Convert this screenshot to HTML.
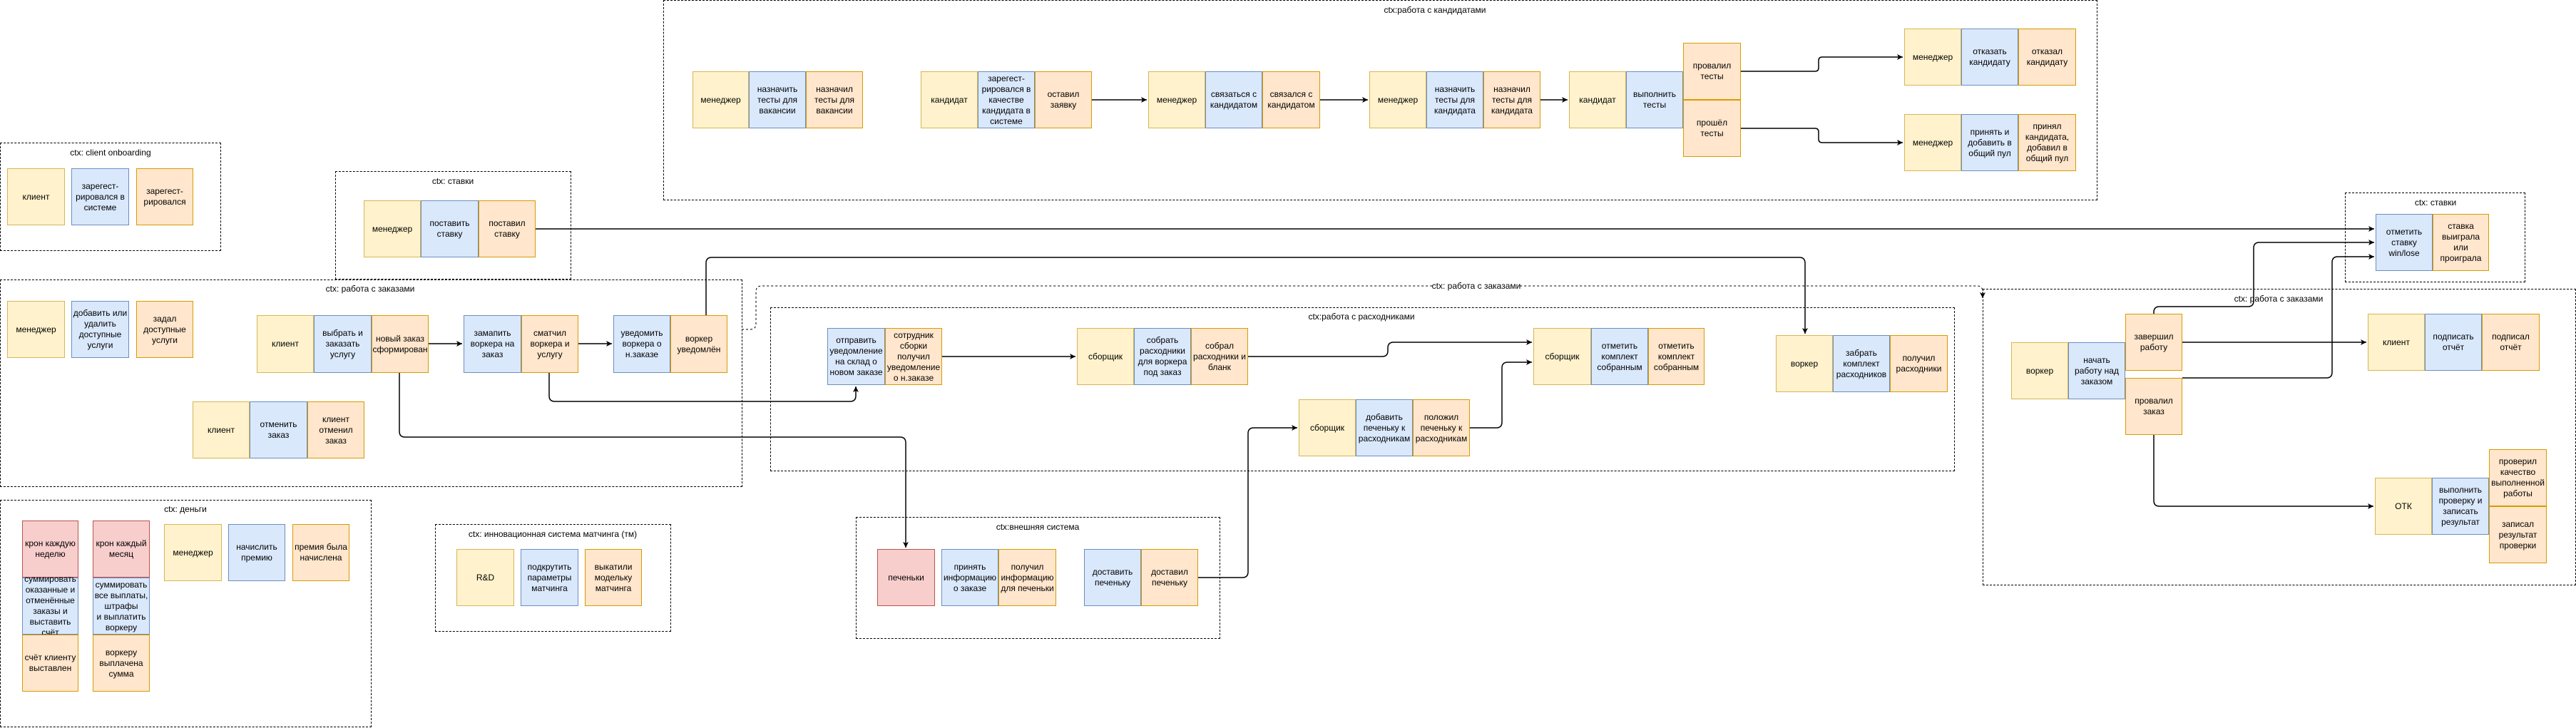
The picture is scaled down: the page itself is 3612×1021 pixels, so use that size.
<!DOCTYPE html>
<html><head><meta charset="utf-8">
<style>
html,body{margin:0;padding:0;background:#fff;}
body{width:3612px;height:1021px;position:relative;overflow:hidden;font-family:"Liberation Sans","DejaVu Sans",sans-serif;color:#000;}
.c{position:absolute;border:1px dashed #000;box-sizing:border-box;}
.l{position:absolute;font-size:12px;transform:translateX(-50%);white-space:nowrap;line-height:14px;}
.b{position:absolute;display:flex;align-items:center;justify-content:center;text-align:center;font-size:12px;line-height:15px;box-sizing:border-box;border:1.5px solid;overflow:visible;word-break:normal;padding:0 1px;}
.y{background:#fff2cc;border-color:#d6b656;}
.u{background:#dae8fc;border-color:#6c8ebf;}
.o{background:#ffe6cc;border-color:#d79b00;}
.r{background:#f8cecc;border-color:#b85450;}
svg{position:absolute;left:0;top:0;}
</style></head><body>

<div class="c" style="left:0;top:200px;width:310px;height:152px"></div>
<div class="l" style="left:155px;top:207px">ctx: client onboarding</div>
<div class="c" style="left:470px;top:240px;width:331px;height:152px"></div>
<div class="l" style="left:635px;top:247px">ctx: ставки</div>
<div class="c" style="left:0;top:392px;width:1041px;height:291px"></div>
<div class="l" style="left:519px;top:398px">ctx: работа с заказами</div>
<div class="c" style="left:0;top:701px;width:521px;height:319px"></div>
<div class="l" style="left:260px;top:707px">ctx: деньги</div>
<div class="c" style="left:610px;top:735px;width:331px;height:151px"></div>
<div class="l" style="left:775px;top:742px">ctx: инновационная система матчинга (тм)</div>
<div class="c" style="left:930px;top:0;width:2011px;height:281px"></div>
<div class="l" style="left:2012px;top:7px">ctx:работа с кандидатами</div>
<div class="c" style="left:1080px;top:431px;width:1661px;height:230px"></div>
<div class="l" style="left:1909px;top:437px">ctx:работа с расходниками</div>
<div class="c" style="left:1200px;top:725px;width:511px;height:171px"></div>
<div class="l" style="left:1455px;top:732px">ctx:внешняя система</div>
<div class="c" style="left:3288px;top:270px;width:253px;height:126px"></div>
<div class="l" style="left:3415px;top:277px">ctx: ставки</div>
<div class="c" style="left:2780px;top:405px;width:832px;height:416px"></div>
<div class="l" style="left:3195px;top:412px">ctx: работа с заказами</div>

<svg width="3612" height="1021" viewBox="0 0 3612 1021">
<defs>
<marker id="a" markerWidth="10" markerHeight="10" refX="8" refY="4" orient="auto" markerUnits="userSpaceOnUse">
<path d="M0,0 L8,4 L0,8 L2,4 z" fill="#000"/></marker>
</defs>
<g fill="none" stroke="#000" stroke-width="1.5">
<path d="M1531,140 H1608" marker-end="url(#a)"/>
<path d="M1851,140 H1918" marker-end="url(#a)"/>
<path d="M2160,140 H2198" marker-end="url(#a)"/>
<path d="M2441,100 H2545 q5,0 5,-5 V85 q0,-5 5,-5 H2668" marker-end="url(#a)"/>
<path d="M2441,180 H2545 q5,0 5,5 V195 q0,5 5,5 H2668" marker-end="url(#a)"/>
<path d="M751,321 H3329" marker-end="url(#a)"/>
<path d="M600,482 H648" marker-end="url(#a)"/>
<path d="M811,482 H858" marker-end="url(#a)"/>
<path d="M990,442 V369 q0,-8 8,-8 H2523 q8,0 8,8 V468" marker-end="url(#a)"/>
<path d="M560,523 V605 q0,8 8,8 H1262 q8,0 8,8 V768" marker-end="url(#a)"/>
<path d="M770,523 V555 q0,8 8,8 H1192 q8,0 8,-8 V542" marker-end="url(#a)"/>
<path d="M1321,500 H1508" marker-end="url(#a)"/>
<path d="M1750,500 H1938 q8,0 8,-8 V488 q0,-8 8,-8 H2148" marker-end="url(#a)"/>
<path d="M2061,600 H2098 q8,0 8,-8 V516 q0,-8 8,-8 H2148" marker-end="url(#a)"/>
<path d="M1680,810 H1742 q8,0 8,-8 V608 q0,-8 8,-8 H1819" marker-end="url(#a)"/>
<path d="M3020,440 V438 q0,-8 8,-8 H3152 q8,0 8,-8 V348 q0,-8 8,-8 H3329" marker-end="url(#a)"/>
<path d="M3060,530 H3262 q8,0 8,-8 V368 q0,-8 8,-8 H3329" marker-end="url(#a)"/>
<path d="M3060,480 H3318" marker-end="url(#a)"/>
<path d="M3020,610 V702 q0,8 8,8 H3328" marker-end="url(#a)"/>
<path d="M1040,462 H1052 q8,0 8,-8 V409 q0,-8 8,-8 H2772 q8,0 8,8 V418" stroke-width="1" stroke-dasharray="3,3" marker-end="url(#a)"/>
</g>
<rect x="2010" y="394" width="120" height="14" fill="#fff"/>
<text x="2070" y="405" font-size="12" text-anchor="middle" font-family="Liberation Sans, sans-serif">ctx: работа с заказами</text>
</svg>

<div class="b y" style="left:10px;top:236px;width:81px;height:80px">клиент</div>
<div class="b u" style="left:100px;top:236px;width:81px;height:80px">зарегест-<br>рировался в системе</div>
<div class="b o" style="left:191px;top:236px;width:80px;height:80px">зарегест-<br>рировался</div>
<div class="b y" style="left:510px;top:281px;width:80px;height:80px">менеджер</div>
<div class="b u" style="left:590px;top:281px;width:81px;height:80px">поставить ставку</div>
<div class="b o" style="left:671px;top:281px;width:80px;height:80px">поставил ставку</div>
<div class="b y" style="left:10px;top:422px;width:81px;height:80px">менеджер</div>
<div class="b u" style="left:100px;top:422px;width:81px;height:80px">добавить или удалить доступные услуги</div>
<div class="b o" style="left:191px;top:422px;width:80px;height:80px">задал доступные услуги</div>
<div class="b y" style="left:360px;top:442px;width:80px;height:81px">клиент</div>
<div class="b u" style="left:440px;top:442px;width:81px;height:81px">выбрать и заказать услугу</div>
<div class="b o" style="left:521px;top:442px;width:80px;height:81px">новый заказ сформирован</div>
<div class="b u" style="left:650px;top:442px;width:81px;height:81px">замапить воркера на заказ</div>
<div class="b o" style="left:731px;top:442px;width:80px;height:81px">сматчил воркера и услугу</div>
<div class="b u" style="left:860px;top:442px;width:80px;height:81px">уведомить воркера о н.заказе</div>
<div class="b o" style="left:940px;top:442px;width:80px;height:81px">воркер уведомлён</div>
<div class="b y" style="left:270px;top:563px;width:80px;height:80px">клиент</div>
<div class="b u" style="left:350px;top:563px;width:81px;height:80px">отменить заказ</div>
<div class="b o" style="left:431px;top:563px;width:80px;height:80px">клиент отменил заказ</div>
<div class="b r" style="left:31px;top:730px;width:79px;height:80px">крон каждую неделю</div>
<div class="b u" style="left:31px;top:810px;width:79px;height:80px">суммировать оказанные и отменённые заказы и выставить счёт</div>
<div class="b o" style="left:31px;top:890px;width:79px;height:80px">счёт клиенту выставлен</div>
<div class="b r" style="left:130px;top:730px;width:80px;height:80px">крон каждый месяц</div>
<div class="b u" style="left:130px;top:810px;width:80px;height:80px">суммировать все выплаты, штрафы<br>и выплатить воркеру</div>
<div class="b o" style="left:130px;top:890px;width:80px;height:80px">воркеру выплачена сумма</div>
<div class="b y" style="left:230px;top:735px;width:81px;height:80px">менеджер</div>
<div class="b u" style="left:320px;top:735px;width:80px;height:80px">начислить премию</div>
<div class="b o" style="left:410px;top:735px;width:80px;height:80px">премия была начислена</div>
<div class="b y" style="left:640px;top:770px;width:81px;height:80px">R&amp;D</div>
<div class="b u" style="left:730px;top:770px;width:81px;height:80px">подкрутить параметры матчинга</div>
<div class="b o" style="left:820px;top:770px;width:80px;height:80px">выкатили модельку матчинга</div>
<div class="b y" style="left:971px;top:100px;width:79px;height:80px">менеджер</div>
<div class="b u" style="left:1050px;top:100px;width:80px;height:80px">назначить тесты для вакансии</div>
<div class="b o" style="left:1130px;top:100px;width:80px;height:80px">назначил тесты для вакансии</div>
<div class="b y" style="left:1291px;top:100px;width:80px;height:80px">кандидат</div>
<div class="b u" style="left:1371px;top:100px;width:80px;height:80px">зарегест-<br>рировался в качестве кандидата в системе</div>
<div class="b o" style="left:1451px;top:100px;width:80px;height:80px">оставил заявку</div>
<div class="b y" style="left:1610px;top:100px;width:80px;height:80px">менеджер</div>
<div class="b u" style="left:1690px;top:100px;width:80px;height:80px">связаться с кандидатом</div>
<div class="b o" style="left:1770px;top:100px;width:81px;height:80px">связался с кандидатом</div>
<div class="b y" style="left:1920px;top:100px;width:80px;height:80px">менеджер</div>
<div class="b u" style="left:2000px;top:100px;width:80px;height:80px">назначить тесты для кандидата</div>
<div class="b o" style="left:2080px;top:100px;width:80px;height:80px">назначил тесты для кандидата</div>
<div class="b y" style="left:2200px;top:100px;width:80px;height:80px">кандидат</div>
<div class="b u" style="left:2280px;top:100px;width:80px;height:80px">выполнить тесты</div>
<div class="b o" style="left:2360px;top:60px;width:81px;height:80px">провалил<br>тесты</div>
<div class="b o" style="left:2360px;top:140px;width:81px;height:80px">прошёл<br>тесты</div>
<div class="b y" style="left:2670px;top:40px;width:80px;height:80px">менеджер</div>
<div class="b u" style="left:2750px;top:40px;width:80px;height:80px">отказать кандидату</div>
<div class="b o" style="left:2830px;top:40px;width:81px;height:80px">отказал кандидату</div>
<div class="b y" style="left:2670px;top:160px;width:80px;height:80px">менеджер</div>
<div class="b u" style="left:2750px;top:160px;width:80px;height:80px">принять и добавить в общий пул</div>
<div class="b o" style="left:2830px;top:160px;width:81px;height:80px">принял кандидата, добавил в общий пул</div>
<div class="b u" style="left:1160px;top:460px;width:81px;height:80px">отправить уведомление на склад о новом заказе</div>
<div class="b o" style="left:1241px;top:460px;width:80px;height:80px">сотрудник сборки получил уведомление о н.заказе</div>
<div class="b y" style="left:1510px;top:460px;width:80px;height:80px">сборщик</div>
<div class="b u" style="left:1590px;top:460px;width:80px;height:80px">собрать расходники для воркера под заказ</div>
<div class="b o" style="left:1670px;top:460px;width:80px;height:80px">собрал расходники и бланк</div>
<div class="b y" style="left:1821px;top:560px;width:80px;height:80px">сборщик</div>
<div class="b u" style="left:1901px;top:560px;width:80px;height:80px">добавить печеньку к расходникам</div>
<div class="b o" style="left:1981px;top:560px;width:80px;height:80px">положил печеньку к расходникам</div>
<div class="b y" style="left:2150px;top:460px;width:81px;height:80px">сборщик</div>
<div class="b u" style="left:2231px;top:460px;width:80px;height:80px">отметить комплект собранным</div>
<div class="b o" style="left:2311px;top:460px;width:79px;height:80px">отметить комплект собранным</div>
<div class="b y" style="left:2490px;top:470px;width:80px;height:80px">воркер</div>
<div class="b u" style="left:2570px;top:470px;width:80px;height:80px">забрать комплект расходников</div>
<div class="b o" style="left:2650px;top:470px;width:81px;height:80px">получил расходники</div>
<div class="b r" style="left:1230px;top:770px;width:81px;height:80px">печеньки</div>
<div class="b u" style="left:1320px;top:770px;width:80px;height:80px">принять информацию о заказе</div>
<div class="b o" style="left:1400px;top:770px;width:81px;height:80px">получил информацию для печеньки</div>
<div class="b u" style="left:1520px;top:770px;width:80px;height:80px">доставить печеньку</div>
<div class="b o" style="left:1600px;top:770px;width:80px;height:80px">доставил печеньку</div>
<div class="b u" style="left:3331px;top:300px;width:80px;height:80px">отметить ставку win/lose</div>
<div class="b o" style="left:3411px;top:300px;width:79px;height:80px">ставка<br>выиграла<br>или<br>проиграла</div>
<div class="b y" style="left:2820px;top:480px;width:80px;height:80px">воркер</div>
<div class="b u" style="left:2900px;top:480px;width:80px;height:80px">начать работу над заказом</div>
<div class="b o" style="left:2980px;top:440px;width:80px;height:80px">завершил работу</div>
<div class="b o" style="left:2980px;top:530px;width:80px;height:80px">провалил заказ</div>
<div class="b y" style="left:3320px;top:440px;width:80px;height:80px">клиент</div>
<div class="b u" style="left:3400px;top:440px;width:80px;height:80px">подписать отчёт</div>
<div class="b o" style="left:3480px;top:440px;width:81px;height:80px">подписал отчёт</div>
<div class="b y" style="left:3330px;top:670px;width:80px;height:80px">ОТК</div>
<div class="b u" style="left:3410px;top:670px;width:80px;height:80px">выполнить проверку и записать результат</div>
<div class="b o" style="left:3490px;top:630px;width:81px;height:80px">проверил качество выполненной работы</div>
<div class="b o" style="left:3490px;top:710px;width:81px;height:80px">записал результат проверки</div>

</body></html>
